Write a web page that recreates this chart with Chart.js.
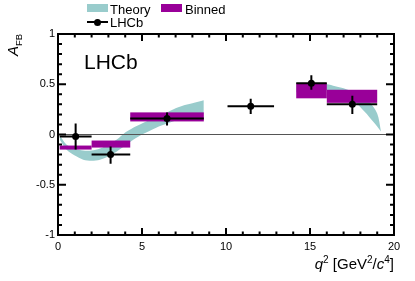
<!DOCTYPE html>
<html><head><meta charset="utf-8">
<script src="https://cdn.jsdelivr.net/npm/chart.js@4/dist/chart.umd.min.js"></script>
<style>
body{margin:0;background:#fff;}
#wrap{position:relative;width:415px;height:281px;font-family:"Liberation Sans",Arial,Helvetica,sans-serif;color:#000;overflow:hidden;}
canvas{position:absolute;left:0;top:0;}
.t{position:absolute;white-space:nowrap;line-height:1;}
</style></head><body>
<div id="wrap">
<canvas id="c" width="415" height="281"></canvas>
<div class="t" style="left:87px;top:4px;width:21px;height:8px;background:#99cccc"></div>
<div class="t" style="left:110px;top:3px;font-size:13px">Theory</div>
<div class="t" style="left:161px;top:4px;width:21px;height:8px;background:#990099"></div>
<div class="t" style="left:185px;top:3px;font-size:13px">Binned</div>
<div class="t" style="left:87px;top:21px;width:21px;height:2px;background:#000"></div>
<div class="t" style="left:94px;top:18.5px;width:7px;height:7px;border-radius:50%;background:#000"></div>
<div class="t" style="left:110px;top:15.7px;font-size:13px">LHCb</div>
<div class="t" style="left:84px;top:51px;font-size:21px">LHCb</div>
<div class="t" style="left:5px;top:56px;font-size:15px;line-height:16px;transform:rotate(-90deg);transform-origin:0 0"><i>A</i><sub style="font-size:9.5px">FB</sub></div>
<div class="t" style="right:21px;top:255px;font-size:15px"><i>q</i><sup style="font-size:10px">2</sup> [GeV<sup style="font-size:10px">2</sup>/<i>c</i><sup style="font-size:10px">4</sup>]</div>
</div>
<script>
// ---- data ----
const binLo = [0.1, 2.0, 4.3, 10.09, 14.18, 16.0];
const binHi = [2.0, 4.3, 8.68, 12.86, 16.0, 19.0];
const lhcbX = [1.05, 3.13, 6.49, 11.47, 15.08, 17.52];
const lhcbY = [-0.02, -0.20, 0.16, 0.28, 0.51, 0.30];
const lhcbErrUp = [0.13, 0.08, 0.06, 0.075, 0.08, 0.085];
const lhcbErrDn = [0.13, 0.09, 0.07, 0.075, 0.065, 0.095];
const binnedLow  = [-0.15, -0.13, 0.13, null, 0.36, 0.315];
const binnedHigh = [-0.11, -0.06, 0.22, null, 0.51, 0.445];
const thA_x  = [0.1, 0.5, 1.0, 1.5, 2.0, 2.5, 3.0, 3.5, 4.0, 4.5, 5.0, 5.5, 6.0, 6.5, 7.0, 7.5, 8.0, 8.68];
const thA_hi = [-0.005, -0.10, -0.14, -0.16, -0.16, -0.14, -0.10, -0.05, 0.02, 0.07, 0.11, 0.15, 0.19, 0.22, 0.26, 0.29, 0.31, 0.34];
const thA_lo = [-0.05, -0.15, -0.21, -0.25, -0.26, -0.25, -0.22, -0.17, -0.11, -0.05, 0.00, 0.04, 0.08, 0.11, 0.14, 0.17, 0.19, 0.21];
const thB_x  = [14.18, 15.0, 16.0, 16.5, 17.0, 17.5, 18.0, 18.5, 19.0, 19.22];
const thB_hi = [0.49, 0.50, 0.50, 0.48, 0.46, 0.43, 0.39, 0.33, 0.21, 0.04];
const thB_lo = [0.42, 0.43, 0.44, 0.42, 0.39, 0.35, 0.27, 0.18, 0.08, 0.03];
const xTicks = [0, 5, 10, 15, 20];
const yTicks = [-1, -0.5, 0, 0.5, 1];

const THEORY = '#99cccc', BINNED = '#990099';
const pts = (xs, ys) => xs.map((x, i) => ({x, y: ys[i]}));
const ZERO_IDX = 4;

const overlay = {
  id: 'overlay',
  afterDatasetDraw(chart, args) {
    if (args.index !== ZERO_IDX) return;
    const {ctx, scales: {x, y}} = chart;
    ctx.save();
    ctx.fillStyle = BINNED;
    for (let i = 0; i < binLo.length; i++) {
      if (binnedLow[i] === null) continue;
      const x0 = x.getPixelForValue(binLo[i]), x1 = x.getPixelForValue(binHi[i]);
      const y0 = y.getPixelForValue(binnedHigh[i]), y1 = y.getPixelForValue(binnedLow[i]);
      ctx.fillRect(x0, y0, x1 - x0, y1 - y0);
    }
    ctx.strokeStyle = '#000'; ctx.lineWidth = 2;
    for (let i = 0; i < lhcbX.length; i++) {
      const px = x.getPixelForValue(lhcbX[i]), py = y.getPixelForValue(lhcbY[i]);
      ctx.beginPath();
      ctx.moveTo(x.getPixelForValue(binLo[i]), py); ctx.lineTo(x.getPixelForValue(binHi[i]), py);
      ctx.moveTo(px, y.getPixelForValue(lhcbY[i] + lhcbErrUp[i])); ctx.lineTo(px, y.getPixelForValue(lhcbY[i] - lhcbErrDn[i]));
      ctx.stroke();
    }
    ctx.restore();
  },
  afterDraw(chart) {
    const {ctx, chartArea: a, scales: {x, y}} = chart;
    ctx.save();
    ctx.strokeStyle = '#000'; ctx.lineWidth = 2;
    ctx.strokeRect(a.left, a.top, a.right - a.left, a.bottom - a.top);
    ctx.beginPath();
    for (let v = x.min; v <= x.max + 1e-9; v += 1) {
      const px = x.getPixelForValue(v);
      const L = (Math.abs(v % 5) < 1e-9) ? 7 : 3.5;
      ctx.moveTo(px, a.bottom); ctx.lineTo(px, a.bottom - L);
      ctx.moveTo(px, a.top); ctx.lineTo(px, a.top + L);
    }
    for (let k = -10; k <= 10; k++) {
      const v = k / 10, py = y.getPixelForValue(v);
      const L = (k % 5 === 0) ? 8 : 4;
      ctx.moveTo(a.left, py); ctx.lineTo(a.left + L, py);
      ctx.moveTo(a.right, py); ctx.lineTo(a.right - L, py);
    }
    ctx.stroke();
    ctx.restore();
  }
};

new Chart(document.getElementById('c'), {
  type: 'line',
  data: {
    datasets: [
      {label: 'thA_lo', data: pts(thA_x, thA_lo), borderWidth: 0, pointRadius: 0, fill: false, order: 10, tension: 0.3},
      {label: 'Theory', data: pts(thA_x, thA_hi), borderWidth: 0, pointRadius: 0, fill: '-1', backgroundColor: THEORY, order: 10, tension: 0.3},
      {label: 'thB_lo', data: pts(thB_x, thB_lo), borderWidth: 0, pointRadius: 0, fill: false, order: 10, tension: 0.3},
      {label: 'TheoryB', data: pts(thB_x, thB_hi), borderWidth: 0, pointRadius: 0, fill: '-1', backgroundColor: THEORY, order: 10, tension: 0.3},
      {label: 'zero', data: [{x: 0, y: 0}, {x: 20, y: 0}], borderColor: '#555', borderWidth: 1, pointRadius: 0, fill: false, order: 8},
      {label: 'LHCb', data: pts(lhcbX, lhcbY), showLine: false, pointRadius: 3.5, pointBackgroundColor: '#000', pointBorderColor: '#000', borderWidth: 0, order: 1}
    ]
  },
  options: {
    responsive: false, animation: false, devicePixelRatio: 1,
    layout: {padding: {top: 34, right: 21, left: 0, bottom: 0}},
    plugins: {legend: {display: false}, tooltip: {enabled: false}},
    scales: {
      x: {type: 'linear', min: 0, max: 20,
          grid: {display: false, drawTicks: false}, border: {display: false},
          afterBuildTicks: s => { s.ticks = xTicks.map(v => ({value: v})); },
          ticks: {padding: 5, color: '#000', font: {family: '"Liberation Sans", Arial, sans-serif', size: 11}, maxRotation: 0, autoSkip: false},
          afterFit: s => { s.height = 46; }},
      y: {type: 'linear', min: -1, max: 1,
          grid: {display: false, drawTicks: false}, border: {display: false},
          afterBuildTicks: s => { s.ticks = yTicks.map(v => ({value: v})); },
          ticks: {padding: 3, color: '#000', font: {family: '"Liberation Sans", Arial, sans-serif', size: 11}, callback: v => String(v), autoSkip: false},
          afterFit: s => { s.width = 58; }}
    }
  },
  plugins: [overlay]
});
</script>
</body></html>
